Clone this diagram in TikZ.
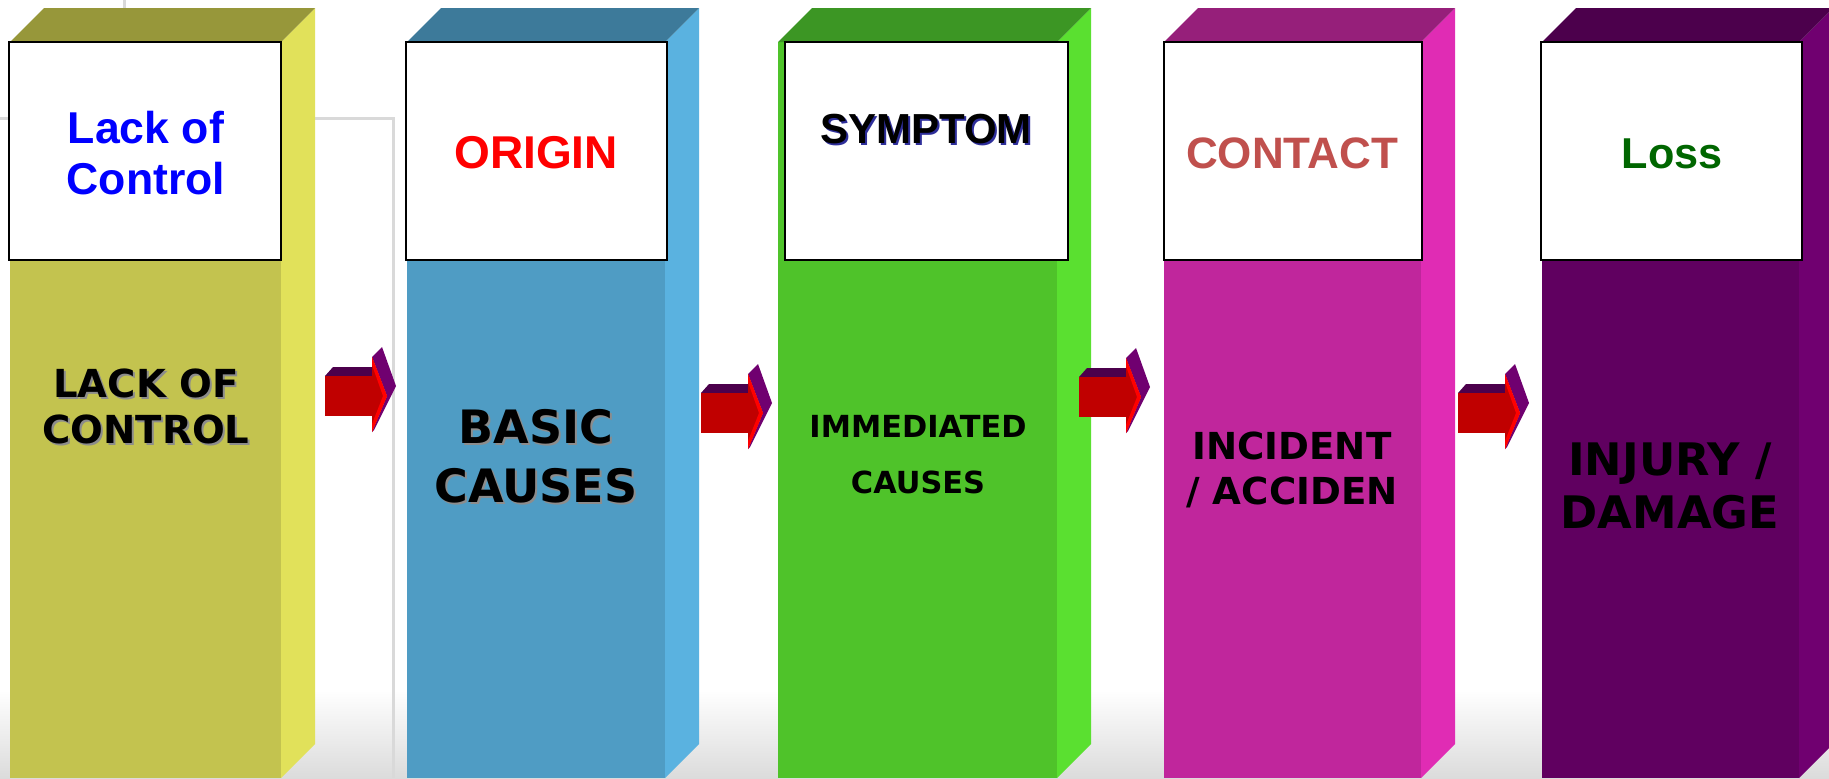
\documentclass[tikz,border=0pt]{standalone}
\usepackage{fontspec}
\newfontfamily\headfont{Liberation Sans}
\newfontfamily\bodyfont{DejaVu Sans}

\definecolor{oliveF}{HTML}{C3C34F}
\definecolor{oliveS}{HTML}{E1E15A}
\definecolor{oliveT}{HTML}{97973A}
\definecolor{blueF}{HTML}{4F9CC4}
\definecolor{blueS}{HTML}{5AB2E0}
\definecolor{blueT}{HTML}{3D7A9A}
\definecolor{greenF}{HTML}{4FC32A}
\definecolor{greenS}{HTML}{5AE030}
\definecolor{greenT}{HTML}{3C9624}
\definecolor{pinkF}{HTML}{C0269C}
\definecolor{pinkS}{HTML}{E02CB4}
\definecolor{pinkT}{HTML}{961F7A}
\definecolor{plumF}{HTML}{600060}
\definecolor{plumS}{HTML}{700070}
\definecolor{plumT}{HTML}{4C004C}
\definecolor{arrowRed}{HTML}{C00000}
\definecolor{contactRed}{HTML}{C0504D}
\definecolor{lossGreen}{HTML}{006600}
\definecolor{symShadow}{HTML}{2E2E9A}
\definecolor{slideGray}{HTML}{D9D9D9}

% one 3D column: (front left : front right)[front/side/top]
\def\pillar(#1:#2)[#3/#4/#5]{%
  \fill[#3] (#1,42) rectangle (#2,778);
  \fill[#4] (#2,42) -- (#2+34,8) -- (#2+34,744) -- (#2,778) -- cycle;
  \fill[#5] (#1,42) -- (#1+34,8) -- (#2+34,8) -- (#2,42) -- cycle;}

% block arrow, (body left, body middle)
\def\blockarrow(#1,#2){%
  \begin{scope}[shift={(#1,#2)}]
    \fill[plumT] (0,-20) -- (8,-29) -- (47,-29) -- (47,-20) -- cycle;
    \fill[arrowRed] (0,-20) rectangle (47,20);
    \fill[plumS] (47,-39) -- (57,-49) -- (71,-10) -- (49,34) -- (47,36) -- (62,0) -- cycle;
    \fill[arrowRed] (47,-39) -- (62,0) -- (47,36) -- cycle;
    \fill[red] (47,-39) -- (62,0) -- (47,36) -- (47,28) -- (58,0) -- (47,-31) -- cycle;
  \end{scope}}

\begin{document}
\begin{tikzpicture}[x=0.5pt, y=-0.5pt,
    head/.style={anchor=base, inner sep=0pt, font=\headfont\bfseries\fontsize{#1}{#1}\selectfont},
    body/.style={anchor=base, inner sep=0pt, font=\bodyfont\bfseries\fontsize{#1}{#1}\selectfont},
    glow/.style={text=black!45}]
    \useasboundingbox (0,0) rectangle (1829,778);
    %%%%% START %%%%%
    % slide background
    \shade[top color=white, bottom color=black!14] (0,690) rectangle (1829,778);
    \draw[slideGray, line width=1.5pt] (124,0) -- (124,42);
    \draw[slideGray, line width=1.5pt] (0,118) -- (393,118) -- (393,778);

    % columns
    \pillar(10:281)[oliveF/oliveS/oliveT]
    \pillar(407:665)[blueF/blueS/blueT]
    \pillar(778:1057)[greenF/greenS/greenT]
    \pillar(1164:1421)[pinkF/pinkS/pinkT]
    \pillar(1542:1799)[plumF/plumS/plumT]

    % title boxes
    \draw[fill=white, line width=1pt] (9,42) rectangle (281,260);
    \draw[fill=white, line width=1pt] (406,42) rectangle (667,260);
    \draw[fill=white, line width=1pt] (785,42) rectangle (1068,260);
    \draw[fill=white, line width=1pt] (1164,42) rectangle (1422,260);
    \draw[fill=white, line width=1pt] (1541,42) rectangle (1802,260);

    \node[head=22.3pt, text=blue] (lack) at (146,143) {Lack of};
    \node[head=22.3pt, text=blue] (control) at (146,194) {Control};
    \node[head=23pt, text=red] (origin) at (536,168) {ORIGIN};
    \node[head=21pt, text=symShadow] at (928,145) {SYMPTOM};
    \node[head=21pt, text=black] (symptom) at (926,143) {SYMPTOM};
    \node[head=22pt, text=contactRed] (contact) at (1292,168) {CONTACT};
    \node[head=21.6pt, text=lossGreen] (loss) at (1672,168) {Loss};

    % column texts
    \node[body=19.3pt, glow] at (148,399) {LACK OF};
    \node[body=19.3pt, glow] at (148,445) {CONTROL};
    \node[body=19.3pt] (lackof) at (146,397) {LACK OF};
    \node[body=19.3pt] (ctrl) at (146,443) {CONTROL};

    \node[body=23pt, glow] at (538,445) {BASIC};
    \node[body=23pt, glow] at (538,504) {CAUSES};
    \node[body=23pt] (basic) at (536,443) {BASIC};
    \node[body=23pt] (causesA) at (536,502) {CAUSES};

    \node[body=15.2pt] (immed) at (918,437) {IMMEDIATED};
    \node[body=15.2pt] (causesB) at (918,493) {CAUSES};

    \node[body=18.6pt] (incident) at (1292,459) {INCIDENT};
    \node[body=18.6pt] (acciden) at (1292,504) {/ ACCIDEN};

    \node[body=22.4pt] (injury) at (1670,475) {INJURY /};
    \node[body=22.4pt] (damage) at (1670,528) {DAMAGE};

    % arrows between the columns
    \blockarrow(325,396)
    \blockarrow(701,413)
    \blockarrow(1079,397)
    \blockarrow(1458,413)
    %%%%% END %%%%%
\end{tikzpicture}
\end{document}
